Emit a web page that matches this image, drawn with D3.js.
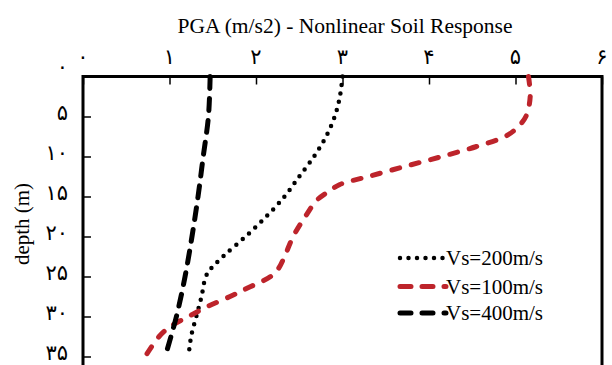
<!DOCTYPE html>
<html>
<head>
<meta charset="utf-8">
<script src="https://cdn.jsdelivr.net/npm/d3@7"></script>
<style>
  html, body { margin: 0; padding: 0; background: #fff; }
  svg { display: block; }
</style>
</head>
<body>
<svg id="chart" width="612" height="365"></svg>
<script>
// ---- data ----
const title = "PGA (m/s2) - Nonlinear Soil Response";
const yLabel = "depth (m)";
const xTicks = [0, 1, 2, 3, 4, 5, 6];
const xTickLabels = ["۰", "۱", "۲", "۳", "۴", "۵", "۶"];
const yTicks = [0, 5, 10, 15, 20, 25, 30, 35];
const yTickLabels = ["۰", "۵", "۱۰", "۱۵", "۲۰", "۲۵", "۳۰", "۳۵"];

const seriesNames = ["Vs=200m/s", "Vs=100m/s", "Vs=400m/s"];

const depth200 = [0, 2.5, 5, 7.5, 10, 12.5, 15, 17.5, 20, 22.5, 24, 25, 27.5, 30, 32.5, 35];
const pga200   = [3.0, 2.97, 2.91, 2.81, 2.67, 2.50, 2.33, 2.12, 1.88, 1.62, 1.48, 1.42, 1.37, 1.31, 1.25, 1.22];

const depth100 = [0, 2.5, 5, 6.5, 7.5, 8.75, 10, 11.25, 12.5, 13.5, 14.5, 15.5, 17.5, 20, 22.5, 24, 25, 26.5, 27.5, 28.75, 30, 31.25, 32.5, 35];
const pga100   = [5.15, 5.17, 5.12, 5.01, 4.88, 4.55, 4.15, 3.72, 3.30, 2.97, 2.82, 2.70, 2.57, 2.43, 2.33, 2.26, 2.17, 1.89, 1.70, 1.44, 1.22, 1.01, 0.88, 0.72];

const depth400 = [0, 5, 10, 15, 20, 25, 30, 35];
const pga400   = [1.47, 1.45, 1.39, 1.33, 1.26, 1.18, 1.08, 0.95];

// ---- chart ----
const svg = d3.select("#chart");
const serif = "'Times New Roman', 'Liberation Serif', 'DejaVu Serif', serif";
const digitFont = "'Times New Roman', 'Liberation Serif', 'DejaVu Sans', sans-serif";

const x = d3.scaleLinear().domain([0, 6]).range([83, 602]);
const y = d3.scaleLinear().domain([0, 35]).range([76.5, 356.5]);
const yBottom = 45; // frame continues below the visible area

// frame
svg.append("rect")
  .attr("x", x(0)).attr("y", y(0))
  .attr("width", x(6) - x(0)).attr("height", y(yBottom) - y(0))
  .attr("fill", "none").attr("stroke", "#000").attr("stroke-width", 3);

// inner ticks
const xAxis = d3.axisTop(x).tickValues(xTicks).tickSize(-8).tickFormat("");
svg.append("g").attr("transform", `translate(0,${y(0)})`).call(xAxis)
  .call(g => g.select(".domain").remove())
  .call(g => g.selectAll(".tick line").attr("stroke", "#000").attr("stroke-width", 1.5));

const yAxis = d3.axisLeft(y).tickValues(yTicks).tickSize(-8).tickFormat("");
svg.append("g").attr("transform", `translate(${x(0)},0)`).call(yAxis)
  .call(g => g.select(".domain").remove())
  .call(g => g.selectAll(".tick line").attr("stroke", "#000").attr("stroke-width", 1.5));

// tick labels
svg.append("g").selectAll("text").data(xTicks).join("text")
  .attr("x", d => x(d)).attr("y", 64)
  .attr("text-anchor", "middle")
  .attr("font-family", digitFont).attr("font-size", 21)
  .text((d, i) => xTickLabels[i]);

svg.append("g").selectAll("text").data(yTicks).join("text")
  .attr("x", 68).attr("y", d => y(d) + (d === 0 ? -3 : 3.5))
  .attr("text-anchor", "end")
  .attr("font-family", digitFont).attr("font-size", 21)
  .text((d, i) => yTickLabels[i]);

// title & axis label
svg.append("text").attr("x", 345).attr("y", 33)
  .attr("text-anchor", "middle").attr("font-family", serif).attr("font-size", 21.5)
  .text(title);

svg.append("text")
  .attr("transform", `translate(29,${224}) rotate(-90)`)
  .attr("text-anchor", "middle").attr("font-family", serif).attr("font-size", 21)
  .text(yLabel);

// lines
const line = d3.line().x(d => x(d[0])).y(d => y(d[1])).curve(d3.curveCatmullRom.alpha(0.5));

const styles = [
  { color: "#000", width: 4.5, dash: "0 8.5" },
  { color: "#bd242b", width: 5, dash: "8 12" },
  { color: "#000", width: 5, dash: "12 10" }
];
const legendDash = ["0 8.5", "11 11", "11 11"];

const series = [
  d3.zip(pga200, depth200),
  d3.zip(pga100, depth100),
  d3.zip(pga400, depth400)
];

series.forEach((s, i) => {
  svg.append("path").datum(s)
    .attr("d", line)
    .attr("fill", "none")
    .attr("stroke", styles[i].color)
    .attr("stroke-width", styles[i].width)
    .attr("stroke-linecap", "round")
    .attr("stroke-dasharray", styles[i].dash);
});

// legend
const legendY = [258, 286.5, 313];
seriesNames.forEach((name, i) => {
  svg.append("line")
    .attr("x1", 400).attr("x2", 446)
    .attr("y1", legendY[i]).attr("y2", legendY[i])
    .attr("stroke", styles[i].color)
    .attr("stroke-width", styles[i].width)
    .attr("stroke-linecap", "round")
    .attr("stroke-dasharray", legendDash[i]);
  svg.append("text")
    .attr("x", 446).attr("y", legendY[i] + 7)
    .attr("font-family", serif).attr("font-size", 21)
    .text(name);
});
</script>
</body>
</html>
